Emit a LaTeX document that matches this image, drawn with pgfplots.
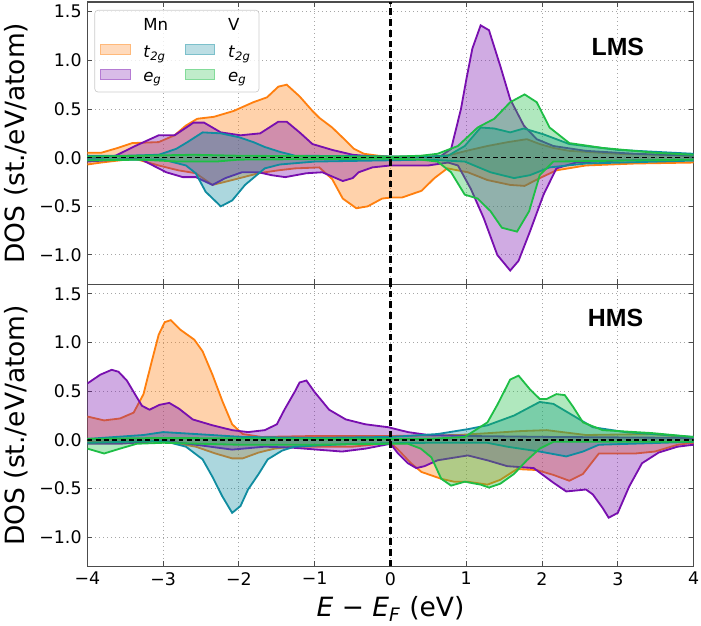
\documentclass[border=0pt]{standalone}
\usepackage{fontspec}
\setmainfont{DejaVu Sans}
\newfontfamily\boldlab{Liberation Sans}
\usepackage{pgfplots}
\usepackage{pgfplotstable}
\usetikzlibrary{calc}
\pgfplotsset{compat=1.18}

\definecolor{cMnt}{RGB}{255,127,14}
\definecolor{cMne}{RGB}{120,15,175}
\definecolor{cVt}{RGB}{16,140,160}
\definecolor{cVe}{RGB}{30,190,70}

% ---------- LMS ----------
\pgfplotstableread{
x y
-4 0.05
-3.82 0.05
-3.6 0.10
-3.41 0.15
-3.06 0.16
-2.85 0.23
-2.7 0.33
-2.55 0.40
-2.33 0.42
-2.07 0.48
-1.81 0.57
-1.63 0.62
-1.48 0.73
-1.37 0.75
-1.2 0.63
-1.03 0.48
-0.94 0.41
-0.77 0.31
-0.61 0.19
-0.48 0.09
-0.35 0.04
-0.16 0.02
0 0.01
0.6 0.01
0.8 0.03
1.0 0.07
1.28 0.12
1.55 0.16
1.8 0.19
1.97 0.14
2.15 0.10
2.36 0.07
3.0 0.04
4 0.02
}\Lmtu
\pgfplotstableread{
x y
-4 -0.07
-3.82 -0.05
-3.6 -0.03
-3.38 -0.01
-3.06 -0.08
-2.8 -0.13
-2.57 -0.16
-2.35 -0.28
-2.09 -0.23
-1.74 -0.16
-1.48 -0.13
-1.26 -0.11
-0.94 -0.10
-0.77 -0.22
-0.63 -0.42
-0.45 -0.52
-0.3 -0.50
-0.11 -0.42
0 -0.41
0.15 -0.41
0.41 -0.34
0.58 -0.21
0.75 -0.11
1.02 -0.15
1.28 -0.23
1.58 -0.28
1.77 -0.29
1.97 -0.21
2.19 -0.13
2.58 -0.08
3.23 -0.06
4 -0.05
}\Lmtd
\pgfplotstableread{
x y
-4 0.0
-3.8 0.0
-3.63 0.02
-3.37 0.12
-3.06 0.23
-2.85 0.23
-2.6 0.36
-2.46 0.36
-2.24 0.26
-1.98 0.23
-1.72 0.25
-1.48 0.37
-1.37 0.37
-1.2 0.26
-1.03 0.14
-0.77 0.08
-0.5 0.03
-0.2 0.01
0.5 0.01
0.67 0.02
0.8 0.09
0.93 0.50
1.0 0.80
1.08 1.12
1.19 1.36
1.30 1.31
1.45 0.94
1.58 0.60
1.76 0.33
1.93 0.19
2.15 0.12
2.58 0.07
3.23 0.04
4 0.02
}\Lmeu
\pgfplotstableread{
x y
-4 -0.04
-3.6 -0.02
-3.31 -0.01
-2.96 -0.15
-2.74 -0.20
-2.57 -0.20
-2.35 -0.28
-2.18 -0.21
-1.96 -0.15
-1.74 -0.15
-1.57 -0.18
-1.39 -0.20
-1.11 -0.16
-0.9 -0.15
-0.63 -0.24
-0.5 -0.21
-0.42 -0.15
-0.24 -0.10
0 -0.08
0.5 -0.08
0.76 -0.05
0.89 -0.08
1.06 -0.32
1.23 -0.62
1.41 -1.0
1.58 -1.16
1.69 -1.06
1.84 -0.76
2.02 -0.38
2.19 -0.11
2.45 -0.05
3 -0.03
4 -0.02
}\Lmed
\pgfplotstableread{
x y
-4 0.02
-3.5 0.02
-3.06 0.03
-2.83 0.09
-2.68 0.16
-2.48 0.26
-2.24 0.25
-2.0 0.21
-1.81 0.16
-1.66 0.11
-1.46 0.06
-1.26 0.02
0.5 0.01
0.76 0.02
0.98 0.12
1.19 0.31
1.37 0.30
1.58 0.26
1.76 0.30
2.02 0.24
2.36 0.14
3.0 0.08
4 0.04
}\Lvtu
\pgfplotstableread{
x y
-4 -0.02
-3.0 -0.02
-2.7 -0.08
-2.57 -0.16
-2.44 -0.35
-2.24 -0.50
-2.09 -0.44
-1.92 -0.28
-1.66 -0.11
-1.46 -0.07
-1.0 -0.04
0.5 -0.02
0.98 -0.04
1.32 -0.15
1.63 -0.21
1.84 -0.18
2.1 -0.10
2.58 -0.06
4 -0.03
}\Lvtd
\pgfplotstableread{
x y
-4 0.01
-3.3 0.02
-2.6 0.03
-2.0 0.02
0 0.01
0.4 0.02
0.62 0.04
0.89 0.12
1.15 0.31
1.37 0.40
1.58 0.57
1.77 0.65
1.93 0.57
2.1 0.31
2.36 0.15
2.8 0.10
3.5 0.05
4 0.03
}\Lveu
\pgfplotstableread{
x y
-4 -0.03
-3.3 -0.02
-2.8 -0.04
-2.3 -0.04
-2.0 -0.02
0 -0.01
0.4 -0.02
0.62 -0.04
0.8 -0.15
0.98 -0.38
1.15 -0.42
1.32 -0.55
1.47 -0.72
1.67 -0.76
1.83 -0.55
1.97 -0.18
2.15 -0.04
4 -0.02
}\Lved

% ---------- HMS ----------
\pgfplotstableread{
x y
-4 0.24
-3.78 0.20
-3.57 0.22
-3.39 0.28
-3.26 0.47
-3.16 0.78
-3.06 1.08
-2.98 1.21
-2.9 1.23
-2.77 1.13
-2.59 1.03
-2.48 0.91
-2.35 0.67
-2.22 0.40
-2.09 0.16
-1.95 0.06
-1.7 0.03
-1.0 0.04
0 0.04
0.9 0.05
1.71 0.09
2.06 0.10
2.58 0.05
3.45 0.06
4 0.02
}\Hmtu
\pgfplotstableread{
x y
-4 -0.02
-3.0 -0.01
-2.57 -0.07
-2.31 -0.14
-2.09 -0.19
-1.95 -0.19
-1.74 -0.13
-1.53 -0.09
-1.31 -0.07
-0.5 -0.07
0 -0.03
0.1 -0.10
0.27 -0.24
0.41 -0.33
0.67 -0.40
0.84 -0.43
1.02 -0.43
1.28 -0.46
1.45 -0.41
1.67 -0.30
1.93 -0.31
2.15 -0.36
2.36 -0.42
2.54 -0.35
2.75 -0.14
3.23 -0.14
3.49 -0.12
3.79 -0.05
4 -0.03
}\Hmtd
\pgfplotstableread{
x y
-4 0.58
-3.83 0.67
-3.68 0.72
-3.59 0.70
-3.48 0.61
-3.35 0.44
-3.28 0.35
-3.18 0.31
-3.05 0.36
-2.92 0.38
-2.79 0.32
-2.61 0.21
-2.35 0.15
-2.09 0.10
-1.88 0.08
-1.66 0.10
-1.5 0.16
-1.4 0.31
-1.26 0.50
-1.2 0.59
-1.11 0.61
-1.0 0.49
-0.81 0.31
-0.59 0.21
-0.33 0.16
-0.03 0.13
0.23 0.08
0.5 0.05
1.0 0.04
2.15 0.03
4 0.02
}\Hmeu
\pgfplotstableread{
x y
-4 -0.04
-3.57 -0.04
-3.0 -0.01
-2.57 -0.05
-2.09 -0.10
-1.66 -0.07
-1.3 -0.08
-0.64 -0.12
-0.33 -0.09
0 -0.04
0.1 -0.14
0.23 -0.24
0.34 -0.29
0.45 -0.27
0.62 -0.21
1.02 -0.16
1.28 -0.21
1.54 -0.27
1.89 -0.29
2.15 -0.44
2.32 -0.53
2.58 -0.51
2.67 -0.56
2.8 -0.70
2.88 -0.80
3.0 -0.75
3.15 -0.48
3.32 -0.24
3.54 -0.13
3.79 -0.07
4 -0.05
}\Hmed
\pgfplotstableread{
x y
-4 0.01
-3.26 0.05
-3.0 0.08
-2.57 0.06
-1.95 0.03
-1.0 0.02
0 0.03
0.62 0.06
1.02 0.11
1.28 0.15
1.63 0.25
1.97 0.39
2.15 0.37
2.41 0.25
2.67 0.13
3.1 0.08
4 0.03
}\Hvtu
\pgfplotstableread{
x y
-4 -0.03
-3.0 -0.01
-2.7 -0.07
-2.48 -0.20
-2.35 -0.38
-2.22 -0.58
-2.09 -0.75
-1.98 -0.68
-1.88 -0.51
-1.74 -0.35
-1.62 -0.20
-1.43 -0.11
-1.27 -0.07
-0.5 -0.04
0.5 -0.03
1.28 -0.03
1.54 -0.07
1.97 -0.12
2.32 -0.17
2.54 -0.12
2.75 -0.05
4 -0.02
}\Hvtd
\pgfplotstableread{
x y
-4 0.01
-3.0 0.02
-1.0 0.01
0.5 0.01
0.98 0.03
1.28 0.18
1.41 0.36
1.58 0.62
1.69 0.66
1.84 0.52
1.97 0.42
2.06 0.42
2.19 0.47
2.3 0.46
2.41 0.34
2.54 0.18
2.8 0.10
3.45 0.07
4 0.03
}\Hveu
\pgfplotstableread{
x y
-4 -0.09
-3.78 -0.14
-3.57 -0.09
-3.35 -0.04
-3.0 -0.03
-2.0 -0.05
-1.0 -0.05
0 -0.04
0.23 -0.04
0.4 -0.09
0.54 -0.18
0.67 -0.40
0.8 -0.47
0.98 -0.43
1.19 -0.46
1.3 -0.49
1.45 -0.45
1.63 -0.35
1.8 -0.21
1.97 -0.09
2.15 -0.02
4 -0.02
}\Hved

\pgfplotsset{
  dosaxis/.style={
    width=366pt, height=170.4pt, scale only axis,
    xmin=-4, xmax=4, ymin=-1.3, ymax=1.6,
    xtick={-4,...,4}, ytick={-1,-0.5,0,0.5,1,1.5},
    yticklabels={−1.0,−0.5,0.0,0.5,1.0,1.5},
    tick align=inside, major tick length=3pt,
    xtick pos=both, ytick pos=both,
    grid=major, grid style={dotted, black!35, line width=0.6pt},
    axis line style={black!70, line width=0.7pt},
    tick style={black!70, line width=0.6pt},
    tick label style={font=\fontsize{10.5}{12}\selectfont},
    ylabel={DOS (st./eV/atom)},
    label style={font=\fontsize{16}{19}\selectfont},
  },
  fillsty/.style={draw=none, fill=#1, fill opacity=0.35, forget plot},
  linesty/.style={draw=#1, line width=1.1pt, forget plot, mark=none},
  zeroline/.style={black, line width=0.8pt, dash pattern=on 3pt off 2pt, forget plot},
  efline/.style={black, line width=1.4pt, dash pattern=on 4pt off 2.5pt, forget plot},
}
\newcommand\dos[2]{%
  \addplot[fillsty=#1] table {#2} \closedcycle;
  \addplot[linesty=#1] table {#2};
}
% legend patch: colour as argument; the invisible rectangle keeps a gap before the text
\newcommand\patch[1]{\addlegendimage{legend image code/.code={%
  \path[draw=none, fill=none] (0pt,-1pt) rectangle (24pt,5pt);
  \draw[sharp corners, draw=#1!55, fill=#1!35, line width=0.6pt] (0pt,-1pt) rectangle (18pt,5pt);}}}
\newcommand\blankpatch{\addlegendimage{legend image code/.code={%
  \path[draw=none, fill=none] (0pt,-1pt) rectangle (24pt,5pt);}}}

\begin{document}
\begin{tikzpicture}
\begin{axis}[dosaxis, name=top, xticklabels={},
  legend columns=2,
  legend cell align=left,
  legend style={at={(0.0115,0.972)}, anchor=north west,
    draw=black!20, rounded corners=2pt, fill=white, fill opacity=0.8,
    text opacity=1, font=\fontsize{10}{12}\selectfont,
    /tikz/every even column/.append style={column sep=8pt},
    row sep=3.5pt, inner xsep=3pt, inner ysep=3pt},
]
\dos{cMnt}{\Lmtu}
\dos{cMnt}{\Lmtd}
\dos{cMne}{\Lmeu}
\dos{cMne}{\Lmed}
\dos{cVt}{\Lvtu}
\dos{cVt}{\Lvtd}
\dos{cVe}{\Lveu}
\dos{cVe}{\Lved}
\addplot[zeroline] coordinates {(-4,0) (4,0)};
\addplot[efline] coordinates {(0,-1.3) (0,1.6)};
\node[font=\boldlab\bfseries\fontsize{15}{18}\selectfont] at (axis cs:3.0,1.14) {LMS};

\blankpatch
\addlegendentry{Mn}
\blankpatch
\addlegendentry{V}
\patch{cMnt}
\addlegendentry{\textit{t}\textsubscript{\textit{2g}}}
\patch{cVt}
\addlegendentry{\textit{t}\textsubscript{\textit{2g}}}
\patch{cMne}
\addlegendentry{\textit{e}\textsubscript{\textit{g}}}
\patch{cVe}
\addlegendentry{\textit{e}\textsubscript{\textit{g}}}
\end{axis}

\begin{axis}[dosaxis, name=bot, at={(top.south west)}, anchor=north west,
  xticklabels={−4,−3,−2,−1,0,1,2,3,4},
  xlabel={\textit{E} − \textit{E}\textsubscript{\textit{F}} (eV)},
]
\dos{cMnt}{\Hmtu}
\dos{cMnt}{\Hmtd}
\dos{cMne}{\Hmeu}
\dos{cMne}{\Hmed}
\dos{cVt}{\Hvtu}
\dos{cVt}{\Hvtd}
\dos{cVe}{\Hveu}
\dos{cVe}{\Hved}
\addplot[zeroline] coordinates {(-4,0) (4,0)};
\addplot[efline] coordinates {(0,-1.3) (0,1.6)};
\node[font=\boldlab\bfseries\fontsize{15}{18}\selectfont] at (axis cs:2.97,1.25) {HMS};
\end{axis}

\pgfresetboundingbox
\path[use as bounding box] ($(top.north west)+(-52.8pt,1.2pt)$) rectangle ($(bot.south east)+(4.5pt,-35.4pt)$);
\end{tikzpicture}
\end{document}
